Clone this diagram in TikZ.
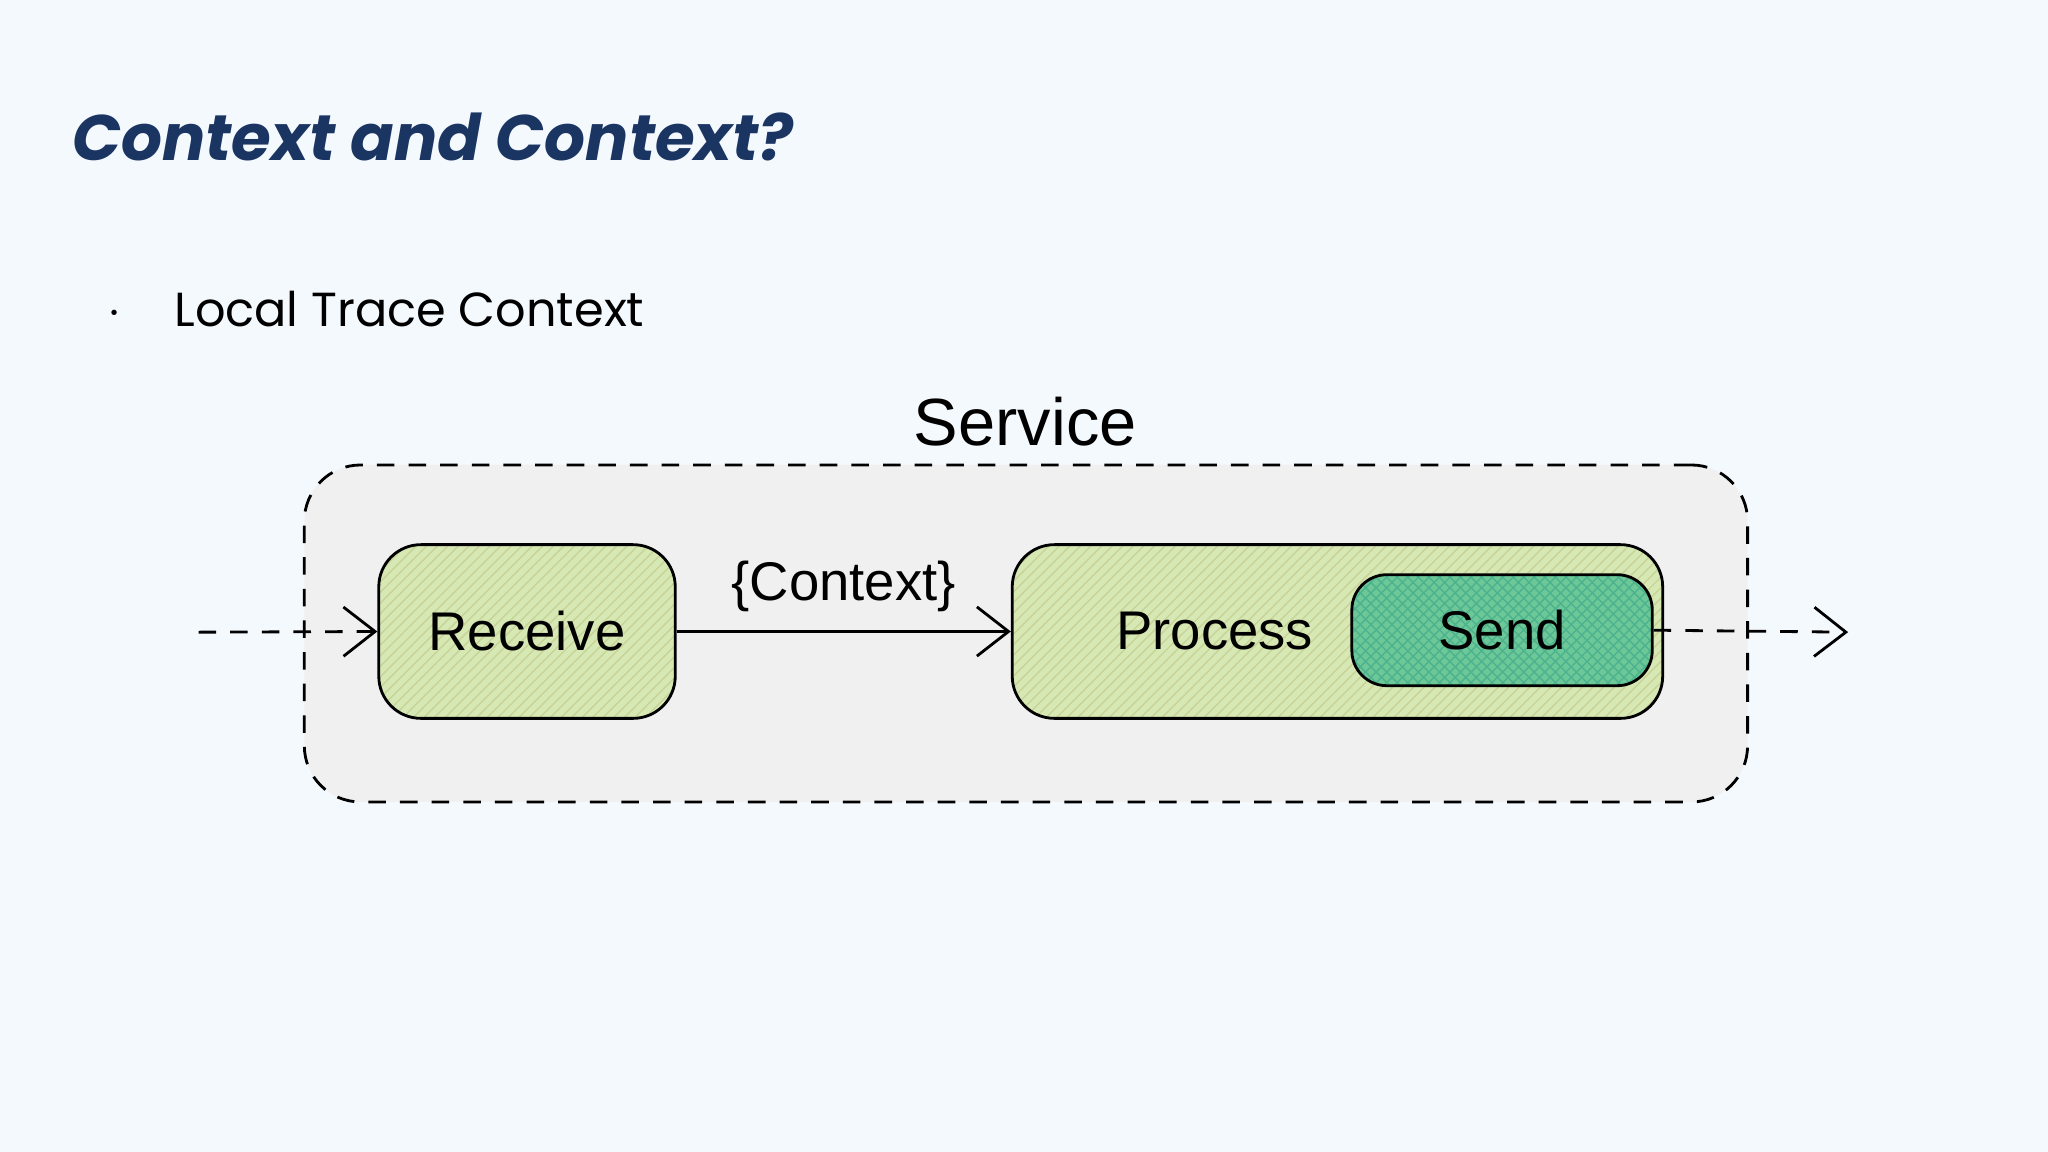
\documentclass[tikz,border=0pt]{standalone}
\usepackage{fontspec}
\setmainfont{Liberation Sans}
\setsansfont{Liberation Sans}
\newfontfamily\titlefont{Poppins}
\usetikzlibrary{positioning}
\usetikzlibrary{patterns}
\usetikzlibrary{arrows.meta}
\definecolor{slidebg}{HTML}{F4F9FE}
\definecolor{navy}{HTML}{1B3563}
\definecolor{lightgreen}{HTML}{D6E9B4}
\definecolor{darkgreen}{HTML}{6CC896}
\tikzset{every picture/.style={/utils/exec={\sffamily}}}
\tikzset{
  stage/.style={draw, thick, rounded corners=12pt, preaction={fill=lightgreen}, pattern=north east lines, pattern color=lightgreen!60!olive!70},
  flow/.style={-{Straight Barb[length=9pt,width=14pt]}, thick},
  longdash/.style={dash pattern=on 5pt off 4pt},
}
\begin{document}
\begin{tikzpicture}[x=0.01306cm, y=-0.01306cm]
  \fill[slidebg] (0,0) rectangle (1568,882);
  \useasboundingbox (0,0) rectangle (1568,882);

  \node[anchor=base west, inner sep=0, text=navy, font=\titlefont\bfseries\itshape\fontsize{18.3}{22}\selectfont] (title) at (55,123) {Context and Context?};
  \node[anchor=base, inner sep=0, font=\titlefont\fontsize{14}{17}\selectfont] (dot) at (88,249) {$\cdot$};
  \node[anchor=base west, inner sep=0, font=\titlefont\fontsize{13.6}{17}\selectfont] (bullet) at (133,250) {Local Trace Context};

  \node[draw, thick, longdash, rounded corners=16pt, fill=black!6, minimum width=1105*0.01306cm, minimum height=258*0.01306cm] (service) at (785.5,485) {};
  \node[anchor=base, inner sep=0, font=\fontsize{19}{22}\selectfont] (servicelabel) at (785,341) {Service};

  \node[stage, minimum width=227*0.01306cm, minimum height=133*0.01306cm, font=\fontsize{15.5}{18}\selectfont] (receive) at (403.5,483.5) {Receive};
  \node[stage, minimum width=498*0.01306cm, minimum height=133*0.01306cm] (process) at (1024,483.5) {};
  \node[font=\fontsize{15.5}{18}\selectfont] (processlabel) at (930,483) {Process};
  \node[draw, thick, rounded corners=10pt, preaction={fill=darkgreen}, pattern=crosshatch, pattern color=darkgreen!70!teal, minimum width=230*0.01306cm, minimum height=85*0.01306cm, font=\fontsize{15.5}{18}\selectfont] (send) at (1150,482.5) {Send};

  \coordinate (in) at (152,484);
  \coordinate (out) at (1415,484);
  \draw[flow, longdash] (in) -- (receive.west);
  \draw[flow] (receive.east) -- node[above, font=\fontsize{15.5}{18}\selectfont, yshift=2pt] {\{Context\}} (process.west);
  \draw[flow, longdash] (send.east) -- (out);
\end{tikzpicture}
\end{document}
